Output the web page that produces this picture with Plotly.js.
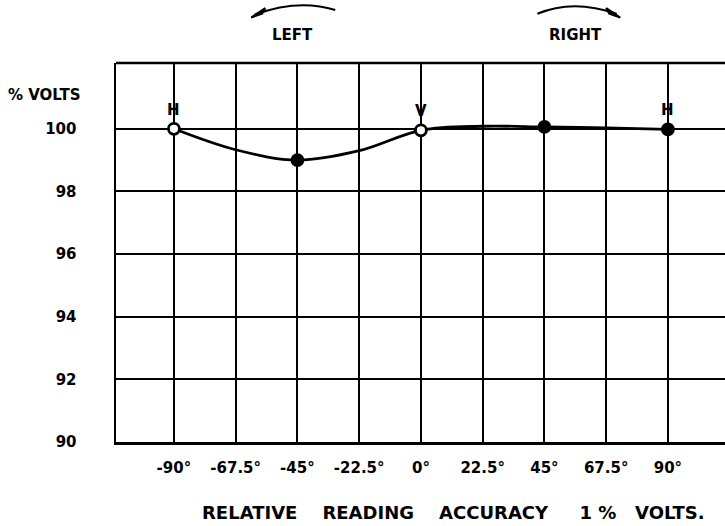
<!DOCTYPE html>
<html>
<head>
<meta charset="utf-8">
<script src="https://cdn.plot.ly/plotly-3.0.1.min.js"></script>
<style>html,body{margin:0;padding:0;background:#fff;}#chart{width:725px;height:526px;}</style>
</head>
<body>
<div id="chart"></div>
<script>
// Data
const angles = [-90, -67.5, -45, -22.5, 0, 22.5, 45, 67.5, 90];
const voltsPct = [100, 99.33, 99.0, 99.3, 99.95, 100.08, 100.06, 100.03, 99.98];

const markerAngles = [-90, -45, 0, 45, 90];
const markerVolts = [100, 99.0, 99.95, 100.06, 99.98];
const markerFill = ['white', 'black', 'white', 'black', 'black'];
const markerLabels = ['H', '', 'V', '', 'H'];

const xTickVals = [-90, -67.5, -45, -22.5, 0, 22.5, 45, 67.5, 90];
const xTickText = ['-90°', '-67.5°', '-45°', '-22.5°', '0°', '22.5°', '45°', '67.5°', '90°'];
const yTickVals = [90, 92, 94, 96, 98, 100];
const yTickText = ['90', '92', '94', '96', '98', '100'];

const bold = (size) => ({family: 'DejaVu Sans', size: size, color: 'black', weight: 'bold'});

const traces = [
  {
    x: angles, y: voltsPct, type: 'scatter', mode: 'lines',
    line: {color: 'black', width: 2.8, shape: 'spline', smoothing: 1},
    hoverinfo: 'skip', showlegend: false
  },
  {
    x: markerAngles, y: markerVolts, type: 'scatter', mode: 'markers',
    marker: {size: 11, color: markerFill, line: {color: 'black', width: 2.8}},
    showlegend: false
  }
];

const labelAnnotations = markerAngles.map((a, i) => ({
  x: a, y: markerVolts[i], xref: 'x', yref: 'y', text: markerLabels[i],
  showarrow: false, yshift: 19, font: {family: 'DejaVu Sans', size: 15, color: 'black'}
})).filter(a => a.text !== '');

const layout = {
  width: 725, height: 526,
  margin: {l: 116, r: 0, t: 63, b: 84},
  paper_bgcolor: 'white', plot_bgcolor: 'white',
  font: bold(14),
  showlegend: false,
  xaxis: {
    range: [-111.1, 110.8],
    tickmode: 'array', tickvals: xTickVals, ticktext: xTickText,
    showgrid: true, gridcolor: 'black', gridwidth: 2,
    zeroline: false, showline: true, linecolor: 'black', linewidth: 2.5,
    ticks: '', ticklabelstandoff: 10,
    tickfont: bold(15),
    fixedrange: true
  },
  yaxis: {
    range: [90, 102.1],
    tickmode: 'array', tickvals: yTickVals, ticktext: yTickText,
    showgrid: true, gridcolor: 'black', gridwidth: 2,
    zeroline: false, showline: true, linecolor: 'black', linewidth: 2.5,
    ticks: '', ticklabelstandoff: 34,
    tickfont: bold(15),
    fixedrange: true
  },
  shapes: [
    {type: 'line', xref: 'paper', yref: 'paper', x0: 0, x1: 1, y0: 1, y1: 1,
     line: {color: 'black', width: 2.5}},
    {type: 'path', xref: 'paper', yref: 'paper',
     path: 'M 0.228 1.128 Q 0.30 1.17 0.36 1.14',
     line: {color: 'black', width: 2}},
    {type: 'path', xref: 'paper', yref: 'paper',
     path: 'M 0.222 1.12 L 0.245 1.145 L 0.240 1.13 Z',
     fillcolor: 'black', line: {color: 'black', width: 2}},
    {type: 'path', xref: 'paper', yref: 'paper',
     path: 'M 0.692 1.13 Q 0.75 1.17 0.822 1.13',
     line: {color: 'black', width: 2}},
    {type: 'path', xref: 'paper', yref: 'paper',
     path: 'M 0.828 1.12 L 0.805 1.145 L 0.810 1.13 Z',
     fillcolor: 'black', line: {color: 'black', width: 2}}
  ],
  annotations: [
    {text: '% VOLTS', xref: 'paper', yref: 'paper', x: -0.18, y: 0.915,
     xanchor: 'left', yanchor: 'middle', showarrow: false, font: bold(15)},
    {text: 'LEFT', xref: 'paper', yref: 'paper', x: 0.29, y: 1.075,
     xanchor: 'center', yanchor: 'middle', showarrow: false, font: bold(15)},
    {text: 'RIGHT', xref: 'paper', yref: 'paper', x: 0.755, y: 1.075,
     xanchor: 'center', yanchor: 'middle', showarrow: false, font: bold(15)},
    {text: 'RELATIVE    READING    ACCURACY     1 %   VOLTS.', xref: 'paper', yref: 'paper',
     x: 0.555, y: -0.185, xanchor: 'center', yanchor: 'middle', showarrow: false,
     font: {family: 'DejaVu Sans', size: 18, color: 'black'}}
  ].concat(labelAnnotations)
};

Plotly.newPlot('chart', traces, layout, {displayModeBar: false, staticPlot: true});
</script>
</body>
</html>
